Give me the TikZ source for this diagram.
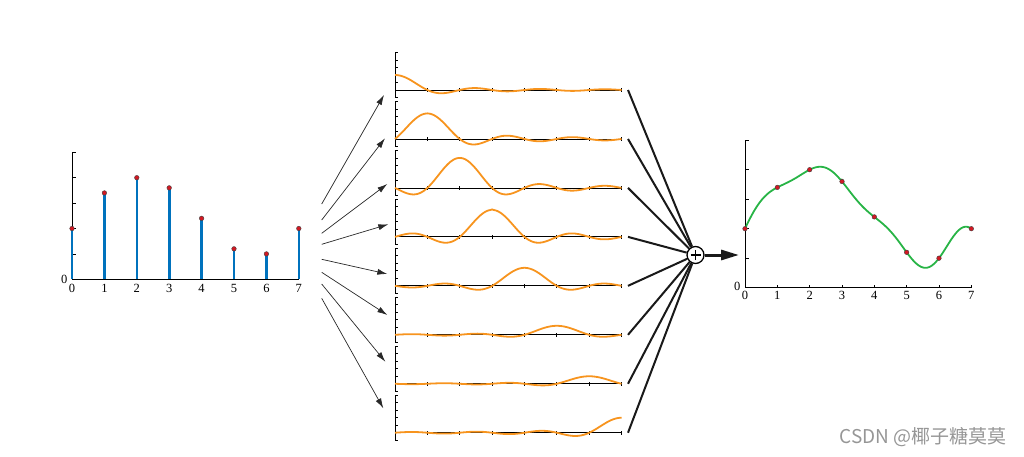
\documentclass[tikz,border=0pt]{standalone}
\usepackage{fontspec}
\setmainfont{Liberation Serif}
\newfontfamily\cjk{Noto Sans CJK SC}
\usetikzlibrary{arrows.meta}
\definecolor{stemblue}{RGB}{0,114,189}
\definecolor{korange}{RGB}{247,148,30}
\definecolor{sgreen}{RGB}{40,180,70}
\definecolor{dotred}{RGB}{210,25,35}
\definecolor{arrgray}{RGB}{40,40,40}
\definecolor{wmgray}{RGB}{150,150,150}
\begin{document}
\begin{tikzpicture}[x=1pt,y=-1pt,
  declare function={sn(\t)=sin(180*(\t+0.0007))/(pi*(\t+0.0007));
    fsum(\u)=2*sn(\u)+3.4*sn(\u-1)+4*sn(\u-2)+3.6*sn(\u-3)+2.4*sn(\u-4)+1.2*sn(\u-5)+1*sn(\u-6)+2*sn(\u-7);},
  axisline/.style={line width=0.8pt, black},
  stemline/.style={line width=2.6pt, stemblue},
  dotnode/.style={circle, inner sep=0pt, minimum size=4.6pt, fill=dotred, draw=black!75, line width=0.4pt},
  ticklab/.style={inner sep=0pt, font=\fontsize{12.5}{12.5}\selectfont},
  orangecurve/.style={line width=1.8pt, korange},
  greencurve/.style={line width=1.8pt, sgreen},
  fanarrow/.style={line width=0.7pt, arrgray, -{Latex[length=10pt,width=6pt]}},
  sumline/.style={line width=2pt, black!90},
  sumnode/.style={circle, draw=black, line width=1.3pt, fill=white, minimum size=17pt, inner sep=0pt},
  outarrow/.style={line width=3pt, black!90, -{Triangle[length=18pt,width=10pt]}},
]
\useasboundingbox (0,0) rectangle (1024,457);

% ---------- left stem plot ----------
\begin{scope}[shift={(72,279.3)}, x=32.4pt, y=25.4pt]
  \draw[axisline] (0,5) -- (0,0) -- (7,0);
  \foreach \k in {1,...,5} \draw[axisline] (0,\k) -- ++(4pt,0);
  \foreach \k/\v in {0/2,1/3.4,2/4,3/3.6,4/2.4,5/1.2,6/1,7/2} {
    \draw[stemline] (\k,0) -- (\k,\v);
    \node[dotnode] (ld\k) at (\k,\v) {};
    \node[ticklab, below=4.5pt] (lx\k) at (\k,0) {\k};
  }
  \node[ticklab, left=4.5pt] (ly0) at (0,0) {0};
\end{scope}

% ---------- middle panels ----------
\foreach \k/\v in {0/2,1/3.4,2/4,3/3.6,4/2.4,5/1.2,6/1,7/2} {
  \begin{scope}[shift={(395,{90+48.96*\k})}, x=32.37pt, y=7.5pt]
    \draw[axisline] (0,5) -- (0,-1);
    \foreach \j in {-1,...,5} \draw[axisline] (0,\j) -- ++(3pt,0);
    \draw[axisline] (0,0) -- (7,0);
    \foreach \j in {1,...,7} \draw[axisline] (\j,-2pt) -- (\j,2pt);
    \draw[orangecurve] plot[domain=0:7, samples=141, smooth] (\x, {\v*sn(\x-\k)});
  \end{scope}
}

% ---------- summation ----------
\node[sumnode] (sum) at (695.5,255) {};
\draw[line width=1.1pt] ([xshift=-5pt]sum.center) -- ([xshift=5pt]sum.center);
\draw[line width=1.1pt] ([yshift=-5pt]sum.center) -- ([yshift=5pt]sum.center);

\foreach \k in {0,...,7} {
  \coordinate (q\k) at (628,{90+48.96*\k});
  \draw[sumline] (q\k) -- (sum);
}
\coordinate (outtip) at (739,255);
\draw[outarrow] (sum) -- (outtip);

% ---------- fan arrows ----------
\foreach \k/\ys/\xt/\yt in {0/204/384/95, 1/220/385/138.3, 2/233.3/387.3/184, 3/244.3/388.3/224.3,
    4/259.3/387.3/274, 5/272.3/387.3/315, 6/284/385.3/361.7, 7/298.3/383.3/408.3} {
  \coordinate (s\k) at (321.7,\ys);
  \coordinate (t\k) at (\xt,\yt);
  \draw[fanarrow] (s\k) -- (t\k);
}

% ---------- right plot ----------
\begin{scope}[shift={(745,287.7)}, x=32.33pt, y=29.5pt]
  \draw[axisline] (0,5) -- (0,0) -- (7,0);
  \foreach \k in {1,...,5} \draw[axisline] (0,\k) -- ++(4pt,0);
  \foreach \k in {1,...,7} \draw[axisline] (\k,0) -- ++(0,3pt);
  \draw[greencurve] plot[domain=0:7, samples=141, smooth] (\x, {fsum(\x)});
  \foreach \k/\v in {0/2,1/3.4,2/4,3/3.6,4/2.4,5/1.2,6/1,7/2} {
    \node[dotnode] (rd\k) at (\k,\v) {};
    \node[ticklab, below=3.5pt] (rx\k) at (\k,0) {\k};
  }
  \node[ticklab, left=4.5pt, yshift=1.5pt] (ry0) at (0,0) {0};
\end{scope}

% ---------- watermark ----------
\node[text=wmgray, inner sep=0pt, font=\cjk\fontsize{19}{19}\selectfont] (wm) at (923,437) {CSDN @椰子糖莫莫};
\end{tikzpicture}
\end{document}
